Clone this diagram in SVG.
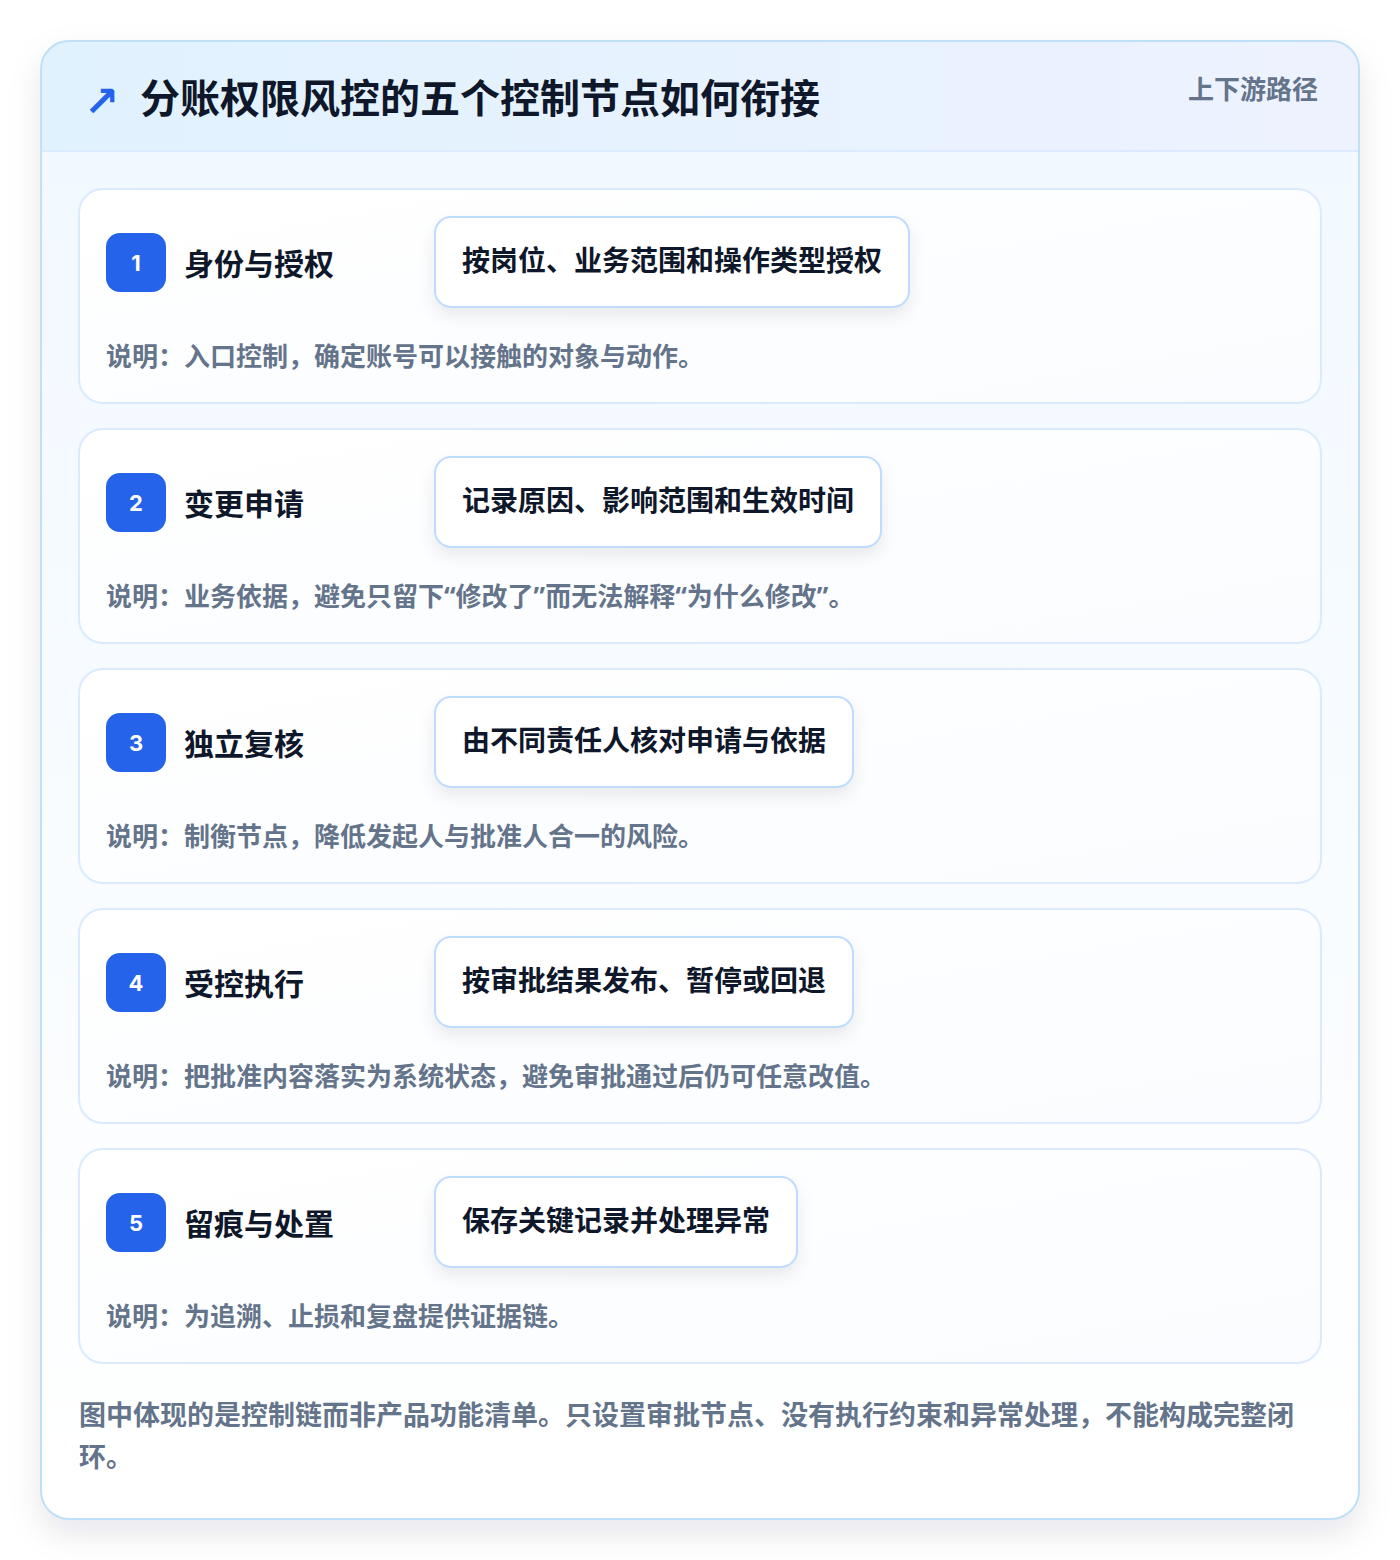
<svg xmlns="http://www.w3.org/2000/svg" width="1400" height="1560" viewBox="0 0 1400 1560">
<defs>
<linearGradient id="hdr" x1="0" y1="0" x2="1" y2="0">
<stop offset="0" stop-color="#e0f2fe"/>
<stop offset="1" stop-color="#eef2ff"/>
</linearGradient>
<linearGradient id="body" x1="0" y1="0" x2="0" y2="1">
<stop offset="0" stop-color="#f0f8ff"/>
<stop offset="1" stop-color="#ffffff"/>
</linearGradient>
<linearGradient id="cardg" x1="0" y1="0" x2="1" y2="1">
<stop offset="0" stop-color="#ffffff"/>
<stop offset="1" stop-color="#fafcff"/>
</linearGradient>
<filter id="outerShadow" x="-10%" y="-10%" width="120%" height="120%">
<feDropShadow dx="0" dy="14" stdDeviation="16" flood-color="#0f172a" flood-opacity="0.10"/>
</filter>
<filter id="pillShadow" x="-20%" y="-40%" width="140%" height="180%">
<feDropShadow dx="0" dy="8" stdDeviation="8" flood-color="#0f172a" flood-opacity="0.08"/>
</filter>
<clipPath id="outerClip"><rect x="41" y="41" width="1318" height="1478" rx="28"/></clipPath>
</defs>
<style>
text{font-family:"Noto Sans CJK SC","Noto Sans",sans-serif;font-weight:700}
.title{font-size:40px;fill:#0f172a}
.sub{font-size:26px;fill:#64748b}
.card{fill:url(#cardg);stroke:#dbeafe;stroke-width:2}
.badge{fill:#2563eb}
.num{font-size:22px;fill:#ffffff;font-family:"Inter","Noto Sans",sans-serif}
.label{font-size:30px;fill:#0f172a}
.pill{fill:#ffffff;stroke:#bfdbfe;stroke-width:2}
.ptext{font-size:28px;fill:#0f172a}
.desc{font-size:26px;fill:#64748b}
.q{font-family:"Noto Sans","Liberation Sans",sans-serif}
.foot{font-size:27px;fill:#64748b}
</style>
<rect width="1400" height="1560" fill="#ffffff"/>
<g id="frame">
<rect x="41" y="41" width="1318" height="1478" rx="28" fill="url(#body)" filter="url(#outerShadow)"/>
<g clip-path="url(#outerClip)">
<rect x="41" y="41" width="1318" height="110" fill="url(#hdr)"/>
<line x1="41" y1="151" x2="1359" y2="151" stroke="#dbeafe" stroke-width="2"/>
</g>
<rect x="41" y="41" width="1318" height="1478" rx="28" fill="none" stroke="#bfe0f7" stroke-width="2"/>
</g>
<g id="header">
<text x="84" y="116" style="font-size:42px;fill:#2563eb;font-family:'DejaVu Sans',sans-serif;font-weight:700">↗</text>
<text x="140" y="113" class="title">分账权限风控的五个控制节点如何衔接</text>
<text x="1318" y="99" class="sub" text-anchor="end">上下游路径</text>
</g>
<g id="connectors"></g>
<g id="node1">
<rect class="card" x="79" y="189" width="1242" height="214" rx="24"/>
<rect class="badge" x="106" y="233" width="60" height="59" rx="14"/>
<text class="num" x="136" y="271" text-anchor="middle">1</text>
<text class="label" x="184" y="275">身份与授权</text>
<rect class="pill" x="435" y="217" width="474" height="90" rx="16" filter="url(#pillShadow)"/>
<text class="ptext" x="462" y="271">按岗位、业务范围和操作类型授权</text>
<text class="desc" x="106" y="366">说明：入口控制，确定账号可以接触的对象与动作。</text>
</g>
<g id="node2">
<rect class="card" x="79" y="429" width="1242" height="214" rx="24"/>
<rect class="badge" x="106" y="473" width="60" height="59" rx="14"/>
<text class="num" x="136" y="511" text-anchor="middle">2</text>
<text class="label" x="184" y="515">变更申请</text>
<rect class="pill" x="435" y="457" width="446" height="90" rx="16" filter="url(#pillShadow)"/>
<text class="ptext" x="462" y="511">记录原因、影响范围和生效时间</text>
<text class="desc" x="106" y="606">说明：业务依据，避免只留下<tspan class="q">“</tspan>修改了<tspan class="q">”</tspan>而无法解释<tspan class="q">“</tspan>为什么修改<tspan class="q">”</tspan>。</text>
</g>
<g id="node3">
<rect class="card" x="79" y="669" width="1242" height="214" rx="24"/>
<rect class="badge" x="106" y="713" width="60" height="59" rx="14"/>
<text class="num" x="136" y="751" text-anchor="middle">3</text>
<text class="label" x="184" y="755">独立复核</text>
<rect class="pill" x="435" y="697" width="418" height="90" rx="16" filter="url(#pillShadow)"/>
<text class="ptext" x="462" y="751">由不同责任人核对申请与依据</text>
<text class="desc" x="106" y="846">说明：制衡节点，降低发起人与批准人合一的风险。</text>
</g>
<g id="node4">
<rect class="card" x="79" y="909" width="1242" height="214" rx="24"/>
<rect class="badge" x="106" y="953" width="60" height="59" rx="14"/>
<text class="num" x="136" y="991" text-anchor="middle">4</text>
<text class="label" x="184" y="995">受控执行</text>
<rect class="pill" x="435" y="937" width="418" height="90" rx="16" filter="url(#pillShadow)"/>
<text class="ptext" x="462" y="991">按审批结果发布、暂停或回退</text>
<text class="desc" x="106" y="1086">说明：把批准内容落实为系统状态，避免审批通过后仍可任意改值。</text>
</g>
<g id="node5">
<rect class="card" x="79" y="1149" width="1242" height="214" rx="24"/>
<rect class="badge" x="106" y="1193" width="60" height="59" rx="14"/>
<text class="num" x="136" y="1231" text-anchor="middle">5</text>
<text class="label" x="184" y="1235">留痕与处置</text>
<rect class="pill" x="435" y="1177" width="362" height="90" rx="16" filter="url(#pillShadow)"/>
<text class="ptext" x="462" y="1231">保存关键记录并处理异常</text>
<text class="desc" x="106" y="1326">说明：为追溯、止损和复盘提供证据链。</text>
</g>
<g id="footer">
<text class="foot" x="79" y="1425">图中体现的是控制链而非产品功能清单。只设置审批节点、没有执行约束和异常处理，不能构成完整闭</text>
<text class="foot" x="79" y="1467">环。</text>
</g>
</svg>
